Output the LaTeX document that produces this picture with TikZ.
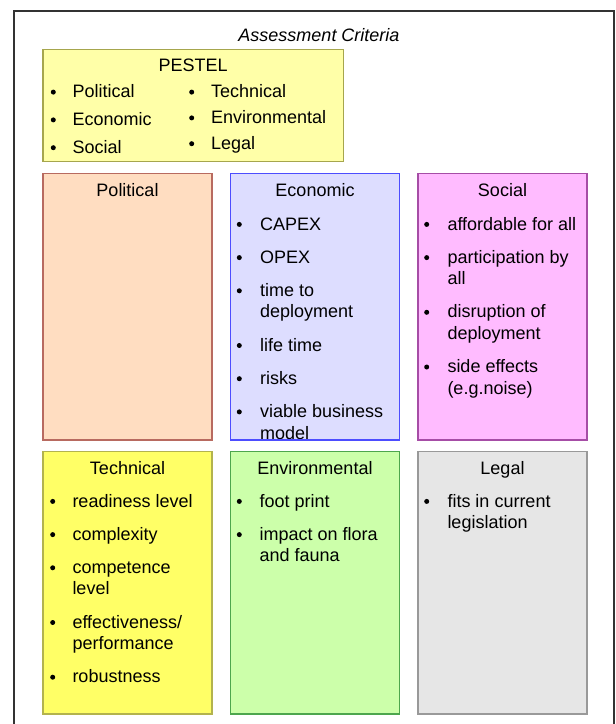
\documentclass[tikz,border=0pt]{standalone}
\usepackage{fontspec}
\setmainfont{Liberation Sans}
\begin{document}
\begin{tikzpicture}[x=1pt,y=-1pt,
  txt/.style={anchor=base west, inner sep=0pt, font=\fontsize{18}{21.5}\selectfont, text=black},
  ttl/.style={anchor=base, inner sep=0pt, font=\fontsize{18}{21.5}\selectfont, text=black},
  bul/.style={circle, fill=black, inner sep=0pt, minimum size=5pt, yshift=5.6pt},
  frame/.style={draw=black!80, line width=1.8pt},
  boxline/.style={line width=1.1pt},
  polbox/.style={boxline, fill=polfill, draw=polline},
  ecobox/.style={boxline, fill=ecofill, draw=ecoline},
  socbox/.style={boxline, fill=socfill, draw=socline},
  tecbox/.style={boxline, fill=tecfill, draw=tecline},
  envbox/.style={boxline, fill=envfill, draw=envline},
  legbox/.style={boxline, fill=legfill, draw=legline},
  pesbox/.style={boxline, fill=pesfill, draw=pesline}]
\definecolor{polfill}{HTML}{FFDDC1}\definecolor{polline}{HTML}{B86A60}
\definecolor{ecofill}{HTML}{DDDDFF}\definecolor{ecoline}{HTML}{4D4DFF}
\definecolor{socfill}{HTML}{FFBBFF}\definecolor{socline}{HTML}{A64DA6}
\definecolor{tecfill}{HTML}{FFFF66}\definecolor{tecline}{HTML}{B3B34D}
\definecolor{envfill}{HTML}{CCFFAA}\definecolor{envline}{HTML}{4DA64D}
\definecolor{legfill}{HTML}{E6E6E6}\definecolor{legline}{HTML}{999999}
\definecolor{pesfill}{HTML}{FFFFA8}\definecolor{pesline}{HTML}{A6A64D}
\useasboundingbox (0,0) rectangle (616,724);
% outer frame (bottom edge lies below the picture)
\draw[frame] (14.3,740) -- (14.3,10.7) -- (614.3,10.7) -- (614.3,740);
\node[ttl, font=\fontsize{18}{21.5}\selectfont\itshape] (title) at (319,41.7) {Assessment Criteria};

% PESTEL box
\draw[pesbox] (43,49.7) rectangle (343.3,161.7);
\node[ttl] (pestel) at (193.2,71.7) {PESTEL};
\node[bul] (pb1) at (53.3,97.7) {};  \node[txt] (p1) at (72.3,97.7) {Political};
\node[bul] (pb2) at (53.3,125.5) {}; \node[txt] (p2) at (72.3,125.5) {Economic};
\node[bul] (pb3) at (53.3,153.3) {}; \node[txt] (p3) at (72.3,153.3) {Social};
\node[bul] (pb4) at (191.7,97.7) {}; \node[txt] (p4) at (211,97.7) {Technical};
\node[bul] (pb5) at (191.7,123.5) {}; \node[txt] (p5) at (211,123.5) {Environmental};
\node[bul] (pb6) at (191.7,149.3) {}; \node[txt] (p6) at (211,149.3) {Legal};

% Row 1
\draw[polbox] (43,173.3) rectangle (212,440);
\node[ttl] (polt) at (127.5,196.5) {Political};

\draw[ecobox] (230.7,173.3) rectangle (399.3,440);
\node[ttl] (ecot) at (315,196.5) {Economic};
\begin{scope}
\clip (230.7,173.3) rectangle (399.3,440);
\node[bul] (eb1) at (239.3,230) {};   \node[txt] (e1) at (260,230) {CAPEX};
\node[bul] (eb2) at (239.3,263.2) {}; \node[txt] (e2) at (260,263.2) {OPEX};
\node[bul] (eb3) at (239.3,296.4) {}; \node[txt] (e3) at (260,296.4) {time to};
\node[txt] (e3b) at (260,317.9) {deployment};
\node[bul] (eb4) at (239.3,351.1) {}; \node[txt] (e4) at (260,351.1) {life time};
\node[bul] (eb5) at (239.3,384.3) {}; \node[txt] (e5) at (260,384.3) {risks};
\node[bul] (eb6) at (239.3,417.5) {}; \node[txt] (e6) at (260,417.5) {viable business};
\node[txt] (e6b) at (260,439) {model};
\end{scope}
\draw[boxline, draw=ecoline] (230.7,173.3) rectangle (399.3,440);

\draw[socbox] (418,173.3) rectangle (587,440);
\node[ttl] (soct) at (502.5,196.5) {Social};
\node[bul] (sb1) at (426.7,230) {};   \node[txt] (s1) at (447.3,230) {affordable for all};
\node[bul] (sb2) at (426.7,263.2) {}; \node[txt] (s2) at (447.3,263.2) {participation by};
\node[txt] (s2b) at (447.3,284.7) {all};
\node[bul] (sb3) at (426.7,317.9) {}; \node[txt] (s3) at (447.3,317.9) {disruption of};
\node[txt] (s3b) at (447.3,339.4) {deployment};
\node[bul] (sb4) at (426.7,372.6) {}; \node[txt] (s4) at (447.3,372.6) {side effects};
\node[txt] (s4b) at (447.3,394.1) {(e.g.noise)};

% Row 2
\draw[tecbox] (43,451.7) rectangle (212,714);
\node[ttl] (tect) at (127.5,474) {Technical};
\node[bul] (tb1) at (52.7,507) {};   \node[txt] (t1) at (72.3,507) {readiness level};
\node[bul] (tb2) at (52.7,540.2) {}; \node[txt] (t2) at (72.3,540.2) {complexity};
\node[bul] (tb3) at (52.7,573.4) {}; \node[txt] (t3) at (72.3,573.4) {competence};
\node[txt] (t3b) at (72.3,594.9) {level};
\node[bul] (tb4) at (52.7,628.1) {}; \node[txt] (t4) at (72.3,628.1) {effectiveness/};
\node[txt] (t4b) at (72.3,649.6) {performance};
\node[bul] (tb5) at (52.7,682.8) {}; \node[txt] (t5) at (72.3,682.8) {robustness};

\draw[envbox] (230.7,451.7) rectangle (399.3,714);
\node[ttl] (envt) at (315,474) {Environmental};
\node[bul] (vb1) at (239.3,507) {};   \node[txt] (v1) at (259.5,507) {foot print};
\node[bul] (vb2) at (239.3,540.2) {}; \node[txt] (v2) at (259.5,540.2) {impact on flora};
\node[txt] (v2b) at (259.5,561.7) {and fauna};

\draw[legbox] (418,451.7) rectangle (587,714);
\node[ttl] (legt) at (502.5,474) {Legal};
\node[bul] (lb1) at (426.7,507) {};   \node[txt] (l1) at (447.3,507) {fits in current};
\node[txt] (l1b) at (447.3,528.5) {legislation};
\end{tikzpicture}
\end{document}
